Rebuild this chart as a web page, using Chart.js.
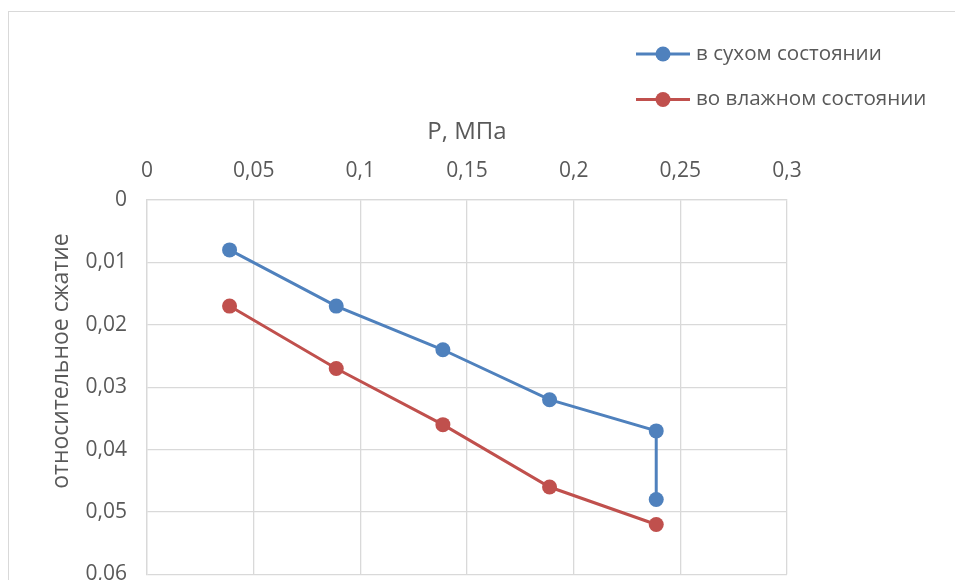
<!DOCTYPE html>
<html>
<head>
<meta charset="utf-8">
<script src="https://cdn.jsdelivr.net/npm/chart.js@4.4.1/dist/chart.umd.min.js"></script>
<style>
  html, body { margin: 0; padding: 0; background: #fff; overflow: hidden; }
  #wrap { position: relative; width: 955px; height: 580px; overflow: hidden; }
  #frame { position: absolute; left: 8px; top: 11px; width: 1000px; height: 700px;
           border: 1.5px solid #d9d9d9; box-sizing: border-box; }
  canvas { position: absolute; left: 0; top: 0; }
</style>
</head>
<body>
<div id="wrap">
  <div id="frame"></div>
  <canvas id="c" width="955" height="607"></canvas>
</div>
<script>
// Pressure, MPa
const pressure = [0.0387, 0.0887, 0.1387, 0.1887, 0.2387];
// Relative compression, dry state (last load step measured twice)
const dryPressure = [0.0387, 0.0887, 0.1387, 0.1887, 0.2387, 0.2387];
const dryCompression = [0.008, 0.017, 0.024, 0.032, 0.037, 0.048];
// Relative compression, wet state
const wetCompression = [0.017, 0.027, 0.036, 0.046, 0.052];

const seriesNames = ['в сухом состоянии', 'во влажном состоянии'];
const xTitle = 'Р, МПа';
const yTitle = 'относительное сжатие';
const xTicks = [0, 0.05, 0.1, 0.15, 0.2, 0.25, 0.3];
const yTicks = [0, 0.01, 0.02, 0.03, 0.04, 0.05, 0.06];

const BLUE = '#4f81bd';
const RED = '#c0504d';
const TEXT = '#595959';
const GRID = '#d9d9d9';
const FONT = '"Open Sans", sans-serif';

const fmt = v => String(+v.toFixed(3)).replace('.', ',');
const toPoints = (xs, ys) => ys.map((y, i) => ({ x: xs[i], y }));

// Vertical legend in the upper right corner
const sideLegend = {
  id: 'sideLegend',
  afterDraw(chart) {
    const ctx = chart.ctx;
    ctx.save();
    ctx.font = '20.6px ' + FONT;
    ctx.textBaseline = 'middle';
    chart.data.datasets.forEach((ds, i) => {
      const y = 54 + i * 45.5;
      ctx.strokeStyle = ds.borderColor;
      ctx.lineWidth = 3;
      ctx.beginPath();
      ctx.moveTo(636, y);
      ctx.lineTo(690, y);
      ctx.stroke();
      ctx.fillStyle = ds.pointBackgroundColor;
      ctx.beginPath();
      ctx.arc(663, y, 7.5, 0, Math.PI * 2);
      ctx.fill();
      ctx.fillStyle = TEXT;
      ctx.fillText(ds.label, 696, y);
    });
    ctx.restore();
  }
};

// Rotated title of the value axis, left of the tick labels
const yAxisTitle = {
  id: 'yAxisTitle',
  afterDraw(chart) {
    const ctx = chart.ctx;
    ctx.save();
    ctx.translate(61, 361);
    ctx.rotate(-Math.PI / 2);
    ctx.font = '23px ' + FONT;
    ctx.fillStyle = TEXT;
    ctx.textAlign = 'center';
    ctx.textBaseline = 'middle';
    ctx.fillText(yTitle, 0, 0);
    ctx.restore();
  }
};

new Chart(document.getElementById('c'), {
  type: 'scatter',
  data: {
    datasets: [
      {
        label: seriesNames[0],
        data: toPoints(dryPressure, dryCompression),
        showLine: true,
        borderColor: BLUE,
        backgroundColor: BLUE,
        pointBackgroundColor: BLUE,
        pointBorderWidth: 0,
        pointRadius: 7.5,
        borderWidth: 3
      },
      {
        label: seriesNames[1],
        data: toPoints(pressure, wetCompression),
        showLine: true,
        borderColor: RED,
        backgroundColor: RED,
        pointBackgroundColor: RED,
        pointBorderWidth: 0,
        pointRadius: 7.5,
        borderWidth: 3
      }
    ]
  },
  options: {
    responsive: false,
    animation: false,
    layout: { padding: { left: 49, top: 118, right: 168, bottom: 0 } },
    plugins: { legend: { display: false }, tooltip: { enabled: false } },
    scales: {
      x: {
        type: 'linear',
        position: 'top',
        min: 0, max: 0.3,
        afterBuildTicks: s => { s.ticks = xTicks.map(v => ({ value: v })); },
        afterFit: s => { s.height = 82; },
        grid: { color: GRID, lineWidth: 1.3, drawTicks: false },
        border: { color: GRID, width: 1.3 },
        ticks: { color: TEXT, font: { family: FONT, size: 21 }, padding: 16,
                 callback: v => fmt(v), maxRotation: 0 },
        title: { display: true, text: xTitle, color: TEXT,
                 font: { family: FONT, size: 24 }, padding: 0 }
      },
      y: {
        type: 'linear',
        reverse: true,
        min: 0, max: 0.06,
        afterBuildTicks: s => { s.ticks = yTicks.map(v => ({ value: v })); },
        afterFit: s => { s.width = 98; },
        grid: { color: GRID, lineWidth: 1.3, drawTicks: false },
        border: { color: GRID, width: 1.3 },
        ticks: { color: TEXT, font: { family: FONT, size: 21 }, padding: 20,
                 callback: v => fmt(v) }
      }
    }
  },
  plugins: [sideLegend, yAxisTitle]
});
</script>
</body>
</html>
